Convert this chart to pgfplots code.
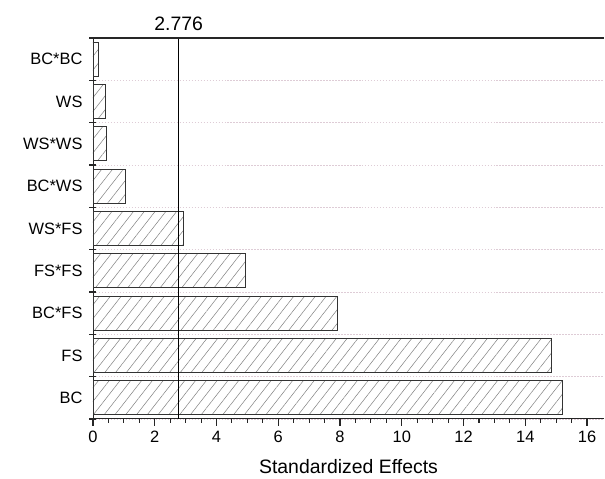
\documentclass[border=0pt]{standalone}
\usepackage{fontspec}
\setmainfont{Liberation Sans}
\usepackage{pgfplots}
\pgfplotsset{compat=1.18}
\usetikzlibrary{patterns.meta}
\definecolor{gridpink}{RGB}{222,204,214}
\begin{document}
\begin{tikzpicture}
\begin{axis}[
  name=ax,
  at={(0,0)}, anchor=south west,
  scale only axis, width=511bp, height=381bp,
  bar width=0.8,
  xmin=0, xmax=16.55, ymin=-0.5, ymax=8.5,
  axis x line*=bottom, axis y line*=left,
  axis line style={line width=1pt, black!85},
  xtick={0,2,...,16}, minor x tick num=3,
  ytick={-0.5,0.5,...,8.5},
  yticklabels={},
  extra y ticks={0,...,8},
  extra y tick labels={BC,FS,BC*FS,FS*FS,WS*FS,BC*WS,WS*WS,WS,BC*BC},
  extra y tick style={major tick length=0pt, grid=none},
  xtick align=outside,
  ytick align=center,
  major tick length=7bp, minor tick length=4bp,
  every tick/.style={line width=1.1pt, black!85},
  ymajorgrids,
  major grid style={gridpink, dash pattern=on 1.5pt off 1.5pt, line width=0.6pt},
  ticklabel style={font=\fontsize{16.5}{18}\selectfont},
  xticklabel style={yshift=-2bp},
  yticklabel style={xshift=-7bp},
  /pgf/number format/assume math mode=true,
  xlabel={Standardized Effects},
  xlabel style={font=\fontsize{19.5}{22}\selectfont, yshift=-9bp},
  clip=false,
]
% standardized effects, smallest at the top
\addplot[xbar, draw=black!80, line width=0.9pt, fill=white,
  postaction={pattern={Lines[angle=52,distance=8.5bp,line width=0.5pt]}, pattern color=black!50}]
  coordinates {(15.19,0) (14.86,1) (7.92,2) (4.93,3) (2.93,4) (1.05,5) (0.45,6) (0.40,7) (0.19,8)};
% critical value
\addplot[black, line width=0.8pt, forget plot] coordinates {(2.776,-0.5) (2.776,8.5)};
\draw[line width=1.6pt, black!85] (rel axis cs:0,1) -- (rel axis cs:1,1);
\node[anchor=south, font=\fontsize{19.5}{22}\selectfont, inner sep=0pt, yshift=7bp]
  at (axis cs:2.776,8.5) {2.776};
\end{axis}
\path ([xshift=-93bp,yshift=-60bp]ax.south west) rectangle ([xshift=1bp,yshift=38bp]ax.north east);
\end{tikzpicture}
\end{document}
